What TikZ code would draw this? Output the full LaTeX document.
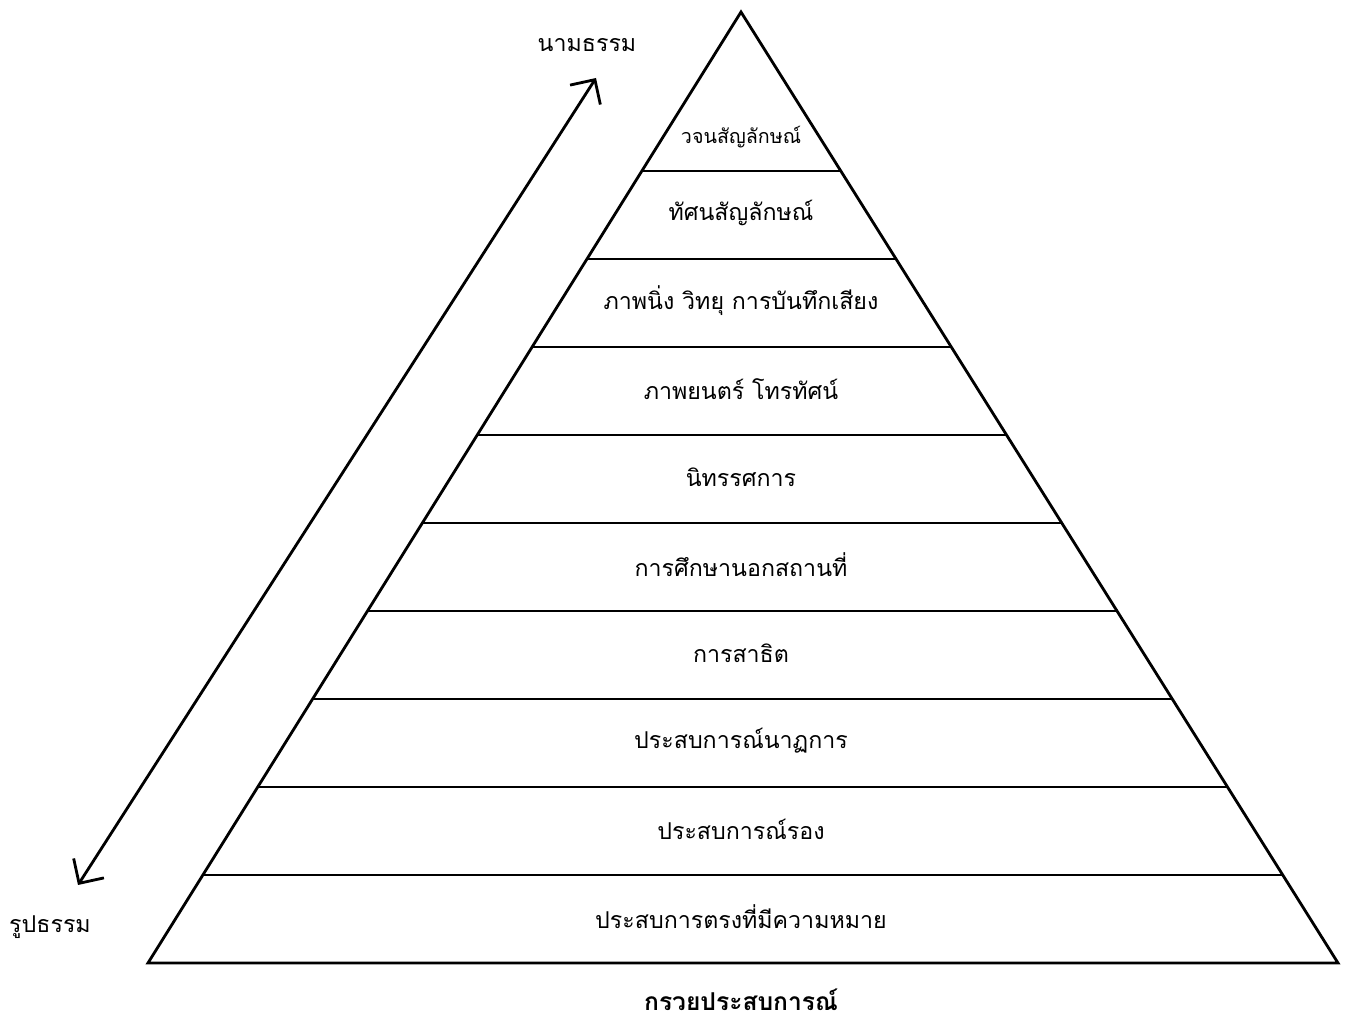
\documentclass[tikz,border=0pt]{standalone}
\usepackage{fontspec}
\newfontfamily\thaifont[Script=Thai]{Loma}
\usetikzlibrary{arrows.meta,calc}
\begin{document}
\begin{tikzpicture}[
    band/.style={font=\thaifont\fontsize{6.6}{8}\selectfont},
    >={Straight Barb[length=1.8mm,width=3.6mm]}]
    \useasboundingbox (0,0) rectangle (13.47,10.27);
    % pyramid
    \coordinate (apex) at (7.41,10.15);
    \coordinate (bl) at (1.48,0.64);
    \coordinate (br) at (13.38,0.64);
    \draw[thick] (bl) -- (apex) -- (br) -- cycle;
    \foreach \i in {1,...,9}
        \draw[thick] ($(bl)!0.88*\i/9.51!(apex)$) -- ($(br)!0.88*\i/9.51!(apex)$);

    \node[band,font=\thaifont\fontsize{5.6}{7}\selectfont] (s10) at (7.41,8.90){วจนสัญลักษณ์};
    \node[band] (s9) at (7.41,8.14){ทัศนสัญลักษณ์};
    \node[band] (s8) at (7.41,7.26){ภาพนิ่ง วิทยุ การบันทึกเสียง};
    \node[band] (s7) at (7.41,6.38){ภาพยนตร์ โทรทัศน์};
    \node[band] (s6) at (7.41,5.50){นิทรรศการ};
    \node[band] (s5) at (7.41,4.62){การศึกษานอกสถานที่};
    \node[band] (s4) at (7.41,3.74){การสาธิต};
    \node[band] (s3) at (7.41,2.86){ประสบการณ์นาฏการ};
    \node[band] (s2) at (7.41,1.98){ประสบการณ์รอง};
    \node[band] (s1) at (7.41,1.10){ประสบการตรงที่มีความหมาย};

    \node[band,font=\thaifont\bfseries\fontsize{7}{8}\selectfont] (title) at (7.41,0.27){กรวยประสบการณ์};

    % abstract / concrete
    \node[band] (top) at (5.87,9.82){นามธรรม};
    \node[band] (bot) at (0.50,1.00){รูปธรรม};
    \coordinate (lo) at (0.78,1.42);
    \coordinate (hi) at (5.96,9.49);
    \draw[<->,thick] (lo) -- (hi);
\end{tikzpicture}
\end{document}
